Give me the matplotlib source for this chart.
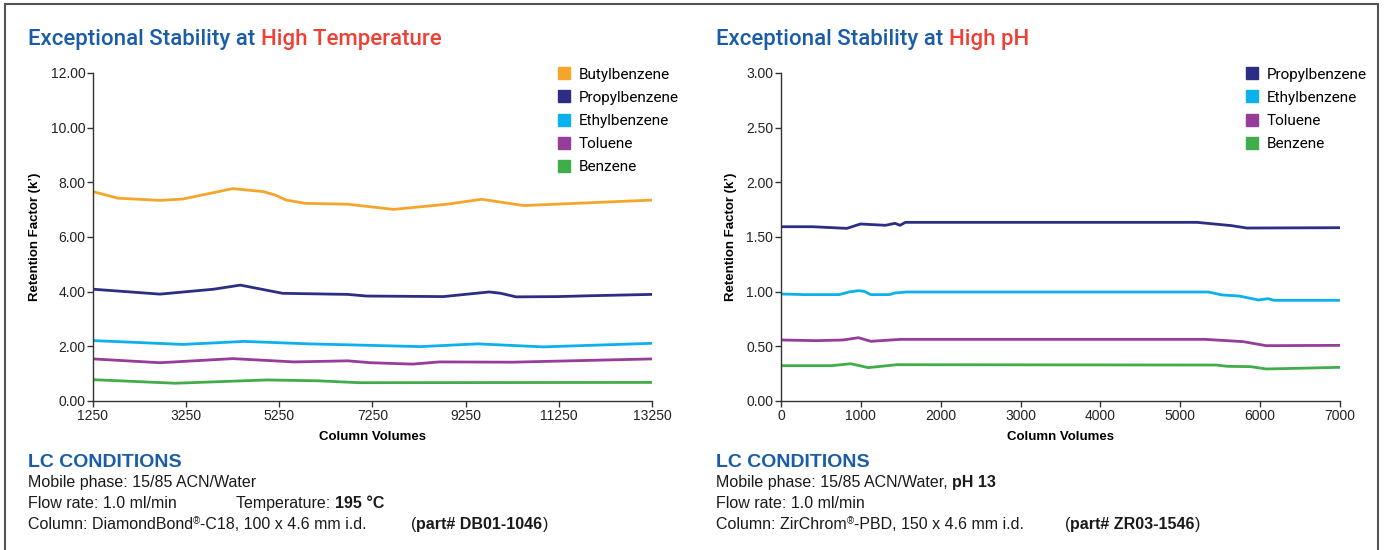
import matplotlib
matplotlib.use("Agg")
import matplotlib.pyplot as plt
from matplotlib.lines import Line2D
from matplotlib.patches import Rectangle

# ---- data ----
# left panel: high temperature, x = column volumes
temp_species = ["Butylbenzene", "Propylbenzene", "Ethylbenzene", "Toluene", "Benzene"]
butyl_x = [1250, 1784, 2688, 3181, 4250, 4907, 5154, 5400, 5812, 6716, 7702, 8853, 9592, 10497, 13250]
butyl_y = [7.66, 7.42, 7.34, 7.39, 7.77, 7.66, 7.54, 7.35, 7.23, 7.20, 7.01, 7.20, 7.38, 7.15, 7.35]
propyl_x = [1250, 2688, 3839, 4414, 5319, 6716, 7127, 8771, 9757, 10003, 10332, 11236, 11894, 13250]
propyl_y = [4.09, 3.91, 4.09, 4.24, 3.94, 3.90, 3.84, 3.82, 3.99, 3.94, 3.81, 3.82, 3.85, 3.90]
ethyl_x = [1250, 3181, 4497, 5894, 8277, 9510, 10907, 13250]
ethyl_y = [2.21, 2.07, 2.18, 2.09, 1.99, 2.09, 1.98, 2.11]
tol_x = [1250, 2688, 4250, 5565, 6716, 7210, 8113, 8689, 10250, 13250]
tol_y = [1.54, 1.40, 1.55, 1.43, 1.47, 1.40, 1.35, 1.43, 1.42, 1.54]
benz_x = [1250, 3017, 4989, 6058, 6962, 13250]
benz_y = [0.78, 0.65, 0.77, 0.74, 0.67, 0.68]

# right panel: high pH
ph_species = ["Propylbenzene", "Ethylbenzene", "Toluene", "Benzene"]
ph_propyl_x = [0, 392, 825, 994, 1307, 1428, 1490, 1558, 5208, 5641, 5834, 7000]
ph_propyl_y = [1.594, 1.594, 1.579, 1.619, 1.607, 1.625, 1.607, 1.634, 1.634, 1.604, 1.582, 1.585]
ph_ethyl_x = [0, 296, 729, 849, 970, 1041, 1125, 1355, 1428, 1571, 5353, 5521, 5738, 5979, 6100, 6171, 7000]
ph_ethyl_y = [0.979, 0.973, 0.973, 0.997, 1.009, 1.003, 0.973, 0.973, 0.988, 0.997, 0.997, 0.970, 0.960, 0.924, 0.936, 0.921, 0.921]
ph_tol_x = [0, 441, 778, 970, 1125, 1500, 5304, 5787, 6076, 7000]
ph_tol_y = [0.558, 0.552, 0.558, 0.579, 0.546, 0.564, 0.564, 0.543, 0.506, 0.509]
ph_benz_x = [0, 632, 874, 1091, 1451, 5449, 5593, 5883, 6076, 6460, 7000]
ph_benz_y = [0.323, 0.323, 0.341, 0.305, 0.332, 0.329, 0.317, 0.314, 0.293, 0.299, 0.308]

colors = {"Butylbenzene": "#f6a52c", "Propylbenzene": "#2b2e84",
          "Ethylbenzene": "#0cb1ec", "Toluene": "#953d98", "Benzene": "#40ad4a"}
BLUE = "#1a5da6"
RED = "#ee4136"
COND = "Roboto"

plt.rcParams["font.family"] = ["Liberation Sans", "DejaVu Sans"]

W, H = 1386, 550
fig = plt.figure(figsize=(W / 100, H / 100), dpi=100)


def px_axes(l, t, r, b):
    return fig.add_axes([l / W, 1 - b / H, (r - l) / W, (b - t) / H])


def style_axes(ax, xticks, yticks, xlim, ylim):
    ax.set_xlim(*xlim)
    ax.set_ylim(*ylim)
    ax.set_xticks(xticks)
    ax.set_yticks(yticks)
    ax.set_yticklabels(["%.2f" % v for v in yticks])
    for s in ["top", "right"]:
        ax.spines[s].set_visible(False)
    for s in ["left", "bottom"]:
        ax.spines[s].set_color("#333333")
        ax.spines[s].set_linewidth(1.0)
    ax.tick_params(direction="out", length=4, width=1, color="#333333",
                   labelsize=10, labelcolor="#222222", pad=1.5)
    ax.set_xlabel("Column Volumes", fontsize=9.5, fontweight="bold", labelpad=6)
    ax.set_ylabel("Retention Factor (k\u2019)", fontsize=9.5, fontweight="bold", labelpad=7)


def add_legend(ax, labels, x_anchor):
    handles = [Line2D([], [], ls="none", marker="s", markersize=8.5,
                      markerfacecolor=colors[n], markeredgecolor=colors[n]) for n in labels]
    ax.legend(handles, labels, loc="upper left", bbox_to_anchor=(x_anchor, 1.04),
              frameon=False, borderpad=0, handlelength=1.0, handletextpad=0.45,
              labelspacing=0.6, prop={"family": COND, "size": 11})


def rich_text(x, y, parts):
    # parts: (text, props) drawn one after another, x/y in pixels from top-left
    r = fig.canvas.get_renderer()
    cx = x
    for s, props in parts:
        props = dict(props)
        dy = props.pop("dy", 0)
        t = fig.text(cx / W, 1 - (y - dy) / H, s, va="baseline", ha="left", **props)
        cx += t.get_window_extent(renderer=r).width


# left panel
ax1 = px_axes(93, 73, 652, 401)
ax1.plot(butyl_x, butyl_y, color=colors["Butylbenzene"], lw=2)
ax1.plot(propyl_x, propyl_y, color=colors["Propylbenzene"], lw=2)
ax1.plot(ethyl_x, ethyl_y, color=colors["Ethylbenzene"], lw=2)
ax1.plot(tol_x, tol_y, color=colors["Toluene"], lw=2)
ax1.plot(benz_x, benz_y, color=colors["Benzene"], lw=2)
style_axes(ax1, list(range(1250, 13251, 2000)), [0, 2, 4, 6, 8, 10, 12], (1250, 13250), (0, 12))
add_legend(ax1, temp_species, 0.815)

# right panel
ax2 = px_axes(781, 73, 1340, 401)
ax2.plot(ph_propyl_x, ph_propyl_y, color=colors["Propylbenzene"], lw=2)
ax2.plot(ph_ethyl_x, ph_ethyl_y, color=colors["Ethylbenzene"], lw=2)
ax2.plot(ph_tol_x, ph_tol_y, color=colors["Toluene"], lw=2)
ax2.plot(ph_benz_x, ph_benz_y, color=colors["Benzene"], lw=2)
style_axes(ax2, list(range(0, 7001, 1000)), [0, 0.5, 1.0, 1.5, 2.0, 2.5, 3.0], (0, 7000), (0, 3))
add_legend(ax2, ph_species, 0.815)

# titles
tfont = {"family": COND, "size": 16, "weight": "medium"}
rich_text(28, 45, [("Exceptional Stability at ", dict(color=BLUE, **tfont)),
                   ("High Temperature", dict(color=RED, **tfont))])
rich_text(716, 45, [("Exceptional Stability at ", dict(color=BLUE, **tfont)),
                    ("High pH", dict(color=RED, **tfont))])

# LC conditions
hfont = dict(color=BLUE, size=14, weight="bold")
nf = dict(color="#1a1a1a", size=11.5)
bf = dict(color="#1a1a1a", size=11.5, weight="bold")
sup = dict(color="#1a1a1a", size=7, dy=5)

rich_text(28, 467, [("LC CONDITIONS", hfont)])
rich_text(28, 487, [("Mobile phase: 15/85 ACN/Water", nf)])
rich_text(28, 508, [("Flow rate: 1.0 ml/min", nf)])
rich_text(236, 508, [("Temperature: ", nf), ("195 \u00b0C", bf)])
rich_text(28, 529, [("Column: DiamondBond", nf), ("\u00ae", sup), ("-C18, 100 x 4.6 mm i.d.", nf)])
rich_text(411, 529, [("(", nf), ("part# DB01-1046", bf), (")", nf)])

rich_text(716, 467, [("LC CONDITIONS", hfont)])
rich_text(716, 487, [("Mobile phase: 15/85 ACN/Water, ", nf), ("pH 13", bf)])
rich_text(716, 508, [("Flow rate: 1.0 ml/min", nf)])
rich_text(716, 529, [("Column: ZirChrom", nf), ("\u00ae", sup), ("-PBD, 150 x 4.6 mm i.d.", nf)])
rich_text(1065, 529, [("(", nf), ("part# ZR03-1546", bf), (")", nf)])

# outer frame
fig.patches.append(Rectangle((5 / W, -0.1), 1373 / W, 1.1 - 4 / H, transform=fig.transFigure,
                             fill=False, edgecolor="#555555", lw=1.5))

fig.savefig("out.png", dpi=100)
